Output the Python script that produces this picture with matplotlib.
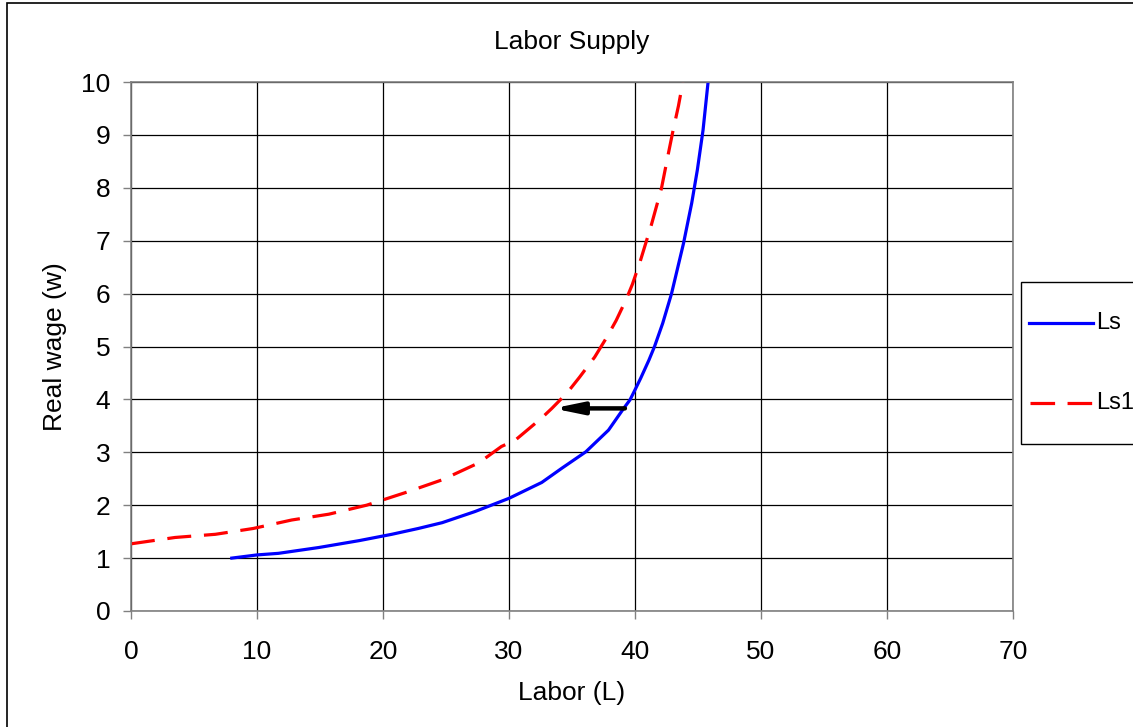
import matplotlib.pyplot as plt
from matplotlib.patches import Rectangle
from matplotlib.lines import Line2D

plt.rcParams['font.family'] = ['Liberation Sans', 'DejaVu Sans']

# Ls curve (blue, solid)
ls_L = [8.0, 10.0, 11.7, 14.9, 18.1, 20.7, 22.8, 24.7, 27.3, 30.0, 32.6, 34.2,
        36.1, 37.9, 39.1, 39.6, 40.0, 40.45, 41.1, 41.55, 42.2, 42.9, 43.35,
        43.85, 44.5, 44.95, 45.4, 45.8]
ls_w = [1.0, 1.06, 1.09, 1.20, 1.33, 1.45, 1.56, 1.67, 1.88, 2.13, 2.43, 2.70,
        3.01, 3.42, 3.83, 3.99, 4.18, 4.40, 4.74, 5.00, 5.44, 6.00, 6.45, 6.95,
        7.71, 8.34, 9.09, 10.0]

# Ls1 curve (red, dashed)
ls1_L = [0.0, 3.5, 6.7, 9.7, 12.75, 15.7, 18.7, 21.8, 24.7, 27.6, 29.4, 30.5,
         31.6, 32.6, 33.4, 34.6, 35.6, 36.8, 37.8, 38.5, 39.3, 39.8, 40.4, 40.85,
         41.3, 42.1, 42.65, 43.0, 43.45, 43.8]
ls1_w = [1.27, 1.39, 1.45, 1.56, 1.72, 1.83, 2.0, 2.24, 2.48, 2.80, 3.11, 3.23,
         3.45, 3.65, 3.83, 4.12, 4.42, 4.80, 5.19, 5.49, 5.89, 6.18, 6.60, 6.95,
         7.30, 7.99, 8.65, 9.06, 9.55, 10.0]

# shift arrow
arrow_from = (39.2, 3.83)
arrow_to = (33.5, 3.83)

labels = ['Ls', 'Ls1']
colors = ['#0000ff', '#ff0000']
dash = (0, (7.5, 4))

fig = plt.figure(figsize=(11.33, 7.27), dpi=100)
ax = fig.add_axes([131/1133, 1 - 611/727, (1013-131)/1133, (611-82)/727])

ax.plot(ls_L, ls_w, color=colors[0], lw=2.3)
ax.plot(ls1_L, ls1_w, color=colors[1], lw=2.3, linestyle=dash,
        dash_capstyle='butt')

ax.annotate('', xy=arrow_to, xytext=arrow_from,
            arrowprops=dict(arrowstyle='-|>,head_length=1.7,head_width=0.35',
                            lw=3.2, color='black', shrinkA=0, shrinkB=0))

ax.set_xlim(0, 70)
ax.set_ylim(0, 10)
ax.set_xticks(range(0, 71, 10))
ax.set_yticks(range(0, 11))
ax.grid(True, color='black', lw=0.9)
ax.set_axisbelow(True)
for s in ax.spines.values():
    s.set_color('#808080')
    s.set_linewidth(1.2)
ax.tick_params(axis='both', direction='out', length=6, width=1, color='#808080',
               labelsize=19, pad=9)
ax.tick_params(axis='x', pad=15)

ax.set_title('Labor Supply', fontsize=19, pad=24)
ax.set_xlabel('Labor (L)', fontsize=19, labelpad=12)
ax.set_ylabel('Real wage (w)', fontsize=19, labelpad=10)

# legend box, drawn by hand so it sits like the original (runs off the right edge)
W, H = 1133, 727
fig.patches.append(Rectangle((1021/W, 1 - 444/H), 0.2, 162/H,
                             transform=fig.transFigure, facecolor='white',
                             edgecolor='black', lw=1.0))
fig.add_artist(Line2D([1029/W, 1093/W], [1 - 323/H] * 2, color=colors[0],
                      lw=2.3, transform=fig.transFigure))
fig.add_artist(Line2D([1030/W, 1093/W], [1 - 403/H] * 2, color=colors[1],
                      lw=2.3, linestyle=(0, (7.7, 3.9)), dash_capstyle='butt',
                      transform=fig.transFigure))
fig.text(1096/W, 1 - 323/H, labels[0], fontsize=17, va='center', ha='left')
fig.text(1096/W, 1 - 403/H, labels[1], fontsize=17, va='center', ha='left')

# outer chart border
fig.patches.append(Rectangle((7/W, -0.1), 1.2, 1 - 3/H + 0.1,
                             transform=fig.transFigure, fill=False,
                             edgecolor='black', lw=1.2))

fig.savefig('out.png', dpi=100)
